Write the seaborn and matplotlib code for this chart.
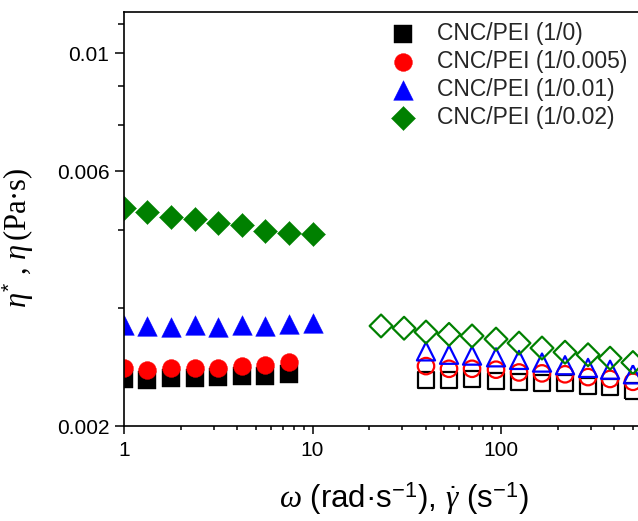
import numpy as np
import pandas as pd
import matplotlib
matplotlib.use("Agg")
import matplotlib.pyplot as plt
import seaborn as sns
from matplotlib.ticker import FixedLocator, FixedFormatter, NullFormatter, LogLocator

sns.set_theme(style="ticks")
plt.rcParams["font.family"] = ["Liberation Sans", "DejaVu Sans"]
plt.rcParams["mathtext.fontset"] = "custom"
plt.rcParams["mathtext.rm"] = "Liberation Sans"
plt.rcParams["mathtext.it"] = "Liberation Serif:italic"
plt.rcParams["mathtext.bf"] = "Liberation Sans:bold"

# ---------------- data ----------------
labels = ["CNC/PEI (1/0)", "CNC/PEI (1/0.005)", "CNC/PEI (1/0.01)", "CNC/PEI (1/0.02)"]
colors = ["black", "red", "blue", "green"]
markers = ["s", "o", "^", "D"]

# oscillatory (complex viscosity, filled)
omega = [1, 1.33, 1.78, 2.37, 3.16, 4.22, 5.62, 7.5, 10]
eta_star_0 = [0.00245, 0.00244, 0.00246, 0.00246, 0.00247, 0.00248, 0.00248, 0.00250]
eta_star_005 = [0.00257, 0.00255, 0.00257, 0.00257, 0.00257, 0.00259, 0.00260, 0.00264]
eta_star_01 = [0.00309, 0.00308, 0.00307, 0.00309, 0.00307, 0.00309, 0.00308, 0.00311, 0.00312]
eta_star_02 = [0.00513, 0.00504, 0.00493, 0.00489, 0.00480, 0.00476, 0.00464, 0.00460, 0.00458]

# steady shear (viscosity, open)
gamma_dot_02 = [23.1, 30.6, 40.0, 53.0, 70.2, 94.1, 124.6, 165, 218.6, 289.5, 378.9, 501]
gamma_dot = [40.0, 53.0, 70.2, 94.1, 124.6, 165, 218.6, 289.5, 378.9, 501]
eta_0 = [0.00244, 0.00244, 0.00245, 0.00243, 0.00242, 0.00241, 0.00241, 0.00238, 0.00237, 0.00233]
eta_005 = [0.00259, 0.00256, 0.00256, 0.00255, 0.00252, 0.00251, 0.00250, 0.00247, 0.00245, 0.00242]
eta_01 = [0.00276, 0.00272, 0.00271, 0.00269, 0.00266, 0.00263, 0.00260, 0.00257, 0.00255, 0.00250]
eta_02 = [0.00308, 0.00305, 0.00300, 0.00297, 0.00295, 0.00291, 0.00286, 0.00280, 0.00275,
          0.00272, 0.00268, 0.00263]

yticks = [0.002, 0.006, 0.01]
yticklabels = ["0.002", "0.006", "0.01"]
yminor = [0.00333, 0.00467, 0.00733, 0.00867, 0.01133]
xticks = [1, 10, 100]
xticklabels = ["1", "10", "100"]

solid_sets = [
    (omega[:len(eta_star_0)], eta_star_0),
    (omega[:len(eta_star_005)], eta_star_005),
    (omega, eta_star_01),
    (omega, eta_star_02),
]
open_sets = [
    (gamma_dot, eta_0),
    (gamma_dot, eta_005),
    (gamma_dot, eta_01),
    (gamma_dot_02, eta_02),
]
solid_sizes = [160, 165, 200, 150]
open_sizes = [130, 140, 170, 135]

# ---------------- figure ----------------
fig = plt.figure(figsize=(6.38, 5.21), dpi=100)
ax = fig.add_axes([124 / 638, 1 - 426 / 521, 565.5 / 638, 414 / 521])

handles = []
for (xs, ys), c, m, s, lab in zip(solid_sets, colors, markers, solid_sizes, labels):
    df = pd.DataFrame({"x": xs, "y": ys})
    sns.scatterplot(data=df, x="x", y="y", marker=m, s=s, color=c,
                    edgecolor=c, linewidth=0.3, ax=ax, legend=False)
    coll = ax.collections[-1]
    coll.set_label(lab)
    handles.append(coll)

for (xs, ys), c, m, s in zip(open_sets, colors, markers, open_sizes):
    df = pd.DataFrame({"x": xs, "y": ys})
    sns.scatterplot(data=df, x="x", y="y", marker=m, s=s, color=c,
                    ax=ax, legend=False)
    coll = ax.collections[-1]
    coll.set_facecolor("none")
    coll.set_edgecolor(c)
    coll.set_linewidth(1.6)

ax.set_xscale("log")
ax.set_yscale("log")
ax.set_xlim(1, 1000)
ax.set_ylim(0.002, 0.01194)

ax.yaxis.set_major_locator(FixedLocator(yticks))
ax.yaxis.set_major_formatter(FixedFormatter(yticklabels))
ax.yaxis.set_minor_locator(FixedLocator(yminor))
ax.yaxis.set_minor_formatter(NullFormatter())
ax.xaxis.set_major_locator(FixedLocator(xticks))
ax.xaxis.set_major_formatter(FixedFormatter(xticklabels))
ax.xaxis.set_minor_locator(LogLocator(base=10, subs=np.arange(2, 10)))
ax.xaxis.set_minor_formatter(NullFormatter())

for sp in ["left", "bottom", "top", "right"]:
    ax.spines[sp].set_color("black")
    ax.spines[sp].set_linewidth(1.2)

ax.tick_params(which="both", direction="out", colors="black", top=False, right=False,
               width=1.1, labelsize=15)
ax.tick_params(axis="y", which="major", length=6.5, pad=4)
ax.tick_params(axis="y", which="minor", length=4.5)
ax.tick_params(axis="x", which="major", length=6, pad=5)
ax.tick_params(axis="x", which="minor", length=3)

ax.set_xlabel(r"$\omega$ (rad·s$^{-1}$), $\dot{\gamma}$ (s$^{-1}$)", fontsize=22.5, color="black")
ax.set_ylabel(r"$\eta^{*}$ , $\eta\,$(Pa·s)", fontsize=22, color="black",
              family=["Liberation Serif", "DejaVu Serif"])
ax.xaxis.set_label_coords(0.495, -0.13)
ax.yaxis.set_label_coords(-0.156, 0.454)

ax.legend(handles=handles, labels=labels, loc="upper left",
          bbox_to_anchor=(388 / 638, 1 - 22 / 521), bbox_transform=fig.transFigure,
          frameon=False, fontsize=16.5, handlelength=1.3, handletextpad=0.85,
          labelspacing=0.22, borderpad=0, borderaxespad=0, scatterpoints=1)

fig.savefig("out.png", dpi=100)
